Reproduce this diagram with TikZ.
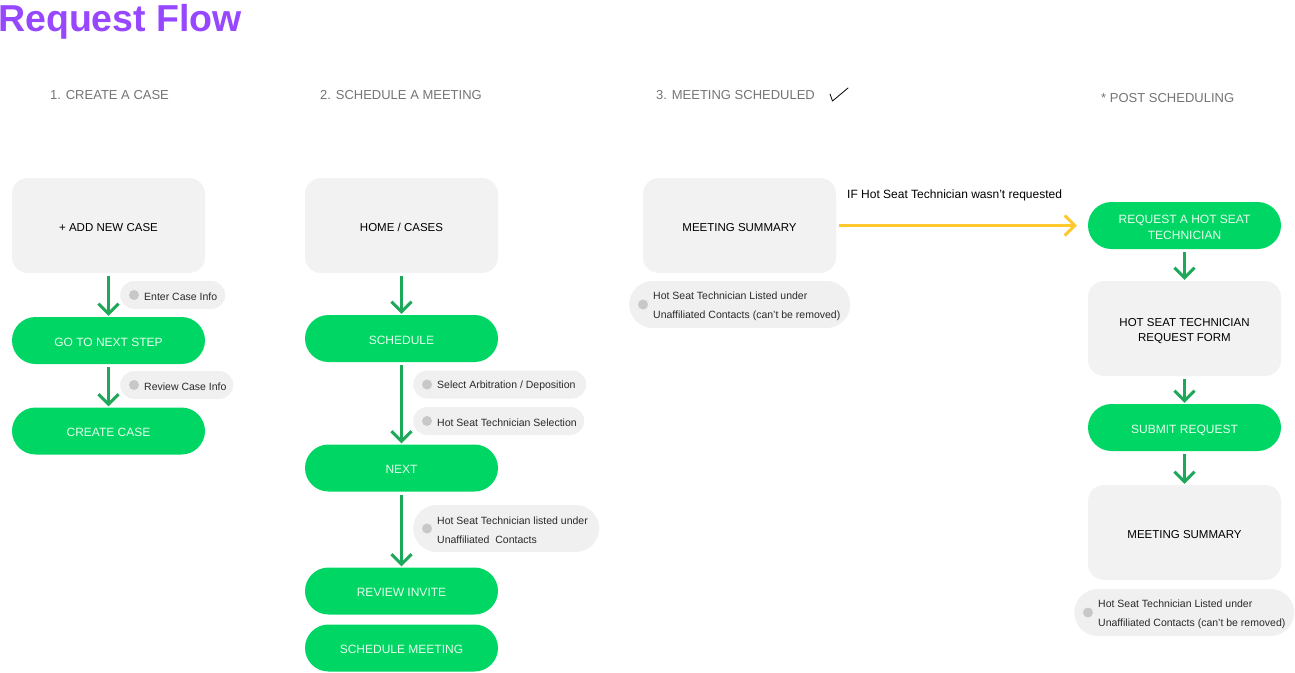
\documentclass[tikz,border=0pt]{standalone}
\usepackage{fontspec}
\setmainfont{Liberation Sans}
\usetikzlibrary{arrows.meta}
\definecolor{gfill}{HTML}{00D663}
\definecolor{arrowg}{HTML}{1EA85A}
\definecolor{pilltext}{HTML}{E6FFEE}
\definecolor{boxgray}{HTML}{F2F2F2}
\definecolor{notegray}{HTML}{F0F0F0}
\definecolor{dotgray}{HTML}{C8C8C8}
\definecolor{notetextc}{HTML}{2A2A2A}
\definecolor{headgray}{HTML}{747474}
\definecolor{titlepurple}{HTML}{9747FF}
\definecolor{ylw}{HTML}{FFC82C}
\tikzset{
  graybox/.style={fill=boxgray, rounded corners=16pt, minimum width=193pt, minimum height=95pt,
    font=\fontsize{11.5}{15}\selectfont, text=black, align=center, inner sep=0pt},
  greenpill/.style={fill=gfill, rounded corners=23.5pt, minimum width=193pt, minimum height=47pt,
    font=\fontsize{12}{16}\selectfont, text=pilltext, align=center, inner sep=0pt},
  oneline/.style={text height=11.5pt, text depth=0pt},
  twoline/.style={text height=27.5pt, text depth=0pt},
  twolinebox/.style={text height=26.1pt, text depth=0pt},
  note/.style={fill=notegray, rounded corners=14pt, inner sep=0pt, anchor=west, minimum height=28pt},
  tallnote/.style={note, rounded corners=23.5pt, minimum height=47pt},
  notedot/.style={circle, fill=dotgray, minimum size=10pt, inner sep=0pt},
  notetext/.style={anchor=west, inner sep=0pt, align=left, text=notetextc,
    font=\fontsize{10.5}{19}\selectfont},
  header/.style={anchor=base west, inner sep=0pt, text=headgray, font=\fontsize{13}{15}\selectfont},
  flow/.style={draw=arrowg, line width=3pt, shorten <=3pt, shorten >=1pt,
    -{Straight Barb[length=10pt,width=20pt,line width=3pt]}},
  yflow/.style={draw=ylw, line width=3pt, shorten <=3pt, shorten >=11pt,
    -{Straight Barb[length=10pt,width=20pt,line width=3pt]}}
}
\begin{document}
\begin{tikzpicture}[x=1pt,y=-1pt]
\useasboundingbox (0,0) rectangle (1295,672);

% title and headers
\node[anchor=base west, inner sep=0pt, text=titlepurple, font=\fontsize{37.5}{40}\selectfont\bfseries] (title) at (-2,31) {Request Flow};
\node[header] (h1) at (50,99) {1. CREATE A CASE};
\node[header] (h2) at (320,99) {2. SCHEDULE A MEETING};
\node[header] (h3) at (656,99) {3. MEETING SCHEDULED};
\node[header] (h4) at (1101,102) {* POST SCHEDULING};
\draw[line width=0.8pt, line cap=round, line join=round] (830,94) -- (832.5,101) -- (848,88);

% column 1
\node[graybox, oneline] (add) at (108.5,225.5) {+ ADD NEW CASE};
\node[greenpill, oneline] (gonext) at (108.5,340.5) {GO TO NEXT STEP};
\node[greenpill, oneline] (create) at (108.5,431) {CREATE CASE};
\draw[flow] (add) -- (gonext);
\draw[flow] (gonext) -- (create);
\node[note, minimum width=105pt] (n1) at (120,295) {};
\node[notedot] (n1d) at ([xshift=14pt]n1.west) {};
\node[notetext] (n1t) at ([xshift=24pt,yshift=-1.5pt]n1.west) {Enter Case Info};
\node[note, minimum width=113pt] (n2) at (120,385) {};
\node[notedot] (n2d) at ([xshift=14pt]n2.west) {};
\node[notetext] (n2t) at ([xshift=24pt,yshift=-1.5pt]n2.west) {Review Case Info};

% column 2
\node[graybox, oneline] (home) at (401.5,225.5) {HOME / CASES};
\node[greenpill, oneline] (sched) at (401.5,338.5) {SCHEDULE};
\node[greenpill, oneline] (next) at (401.5,468) {NEXT};
\node[greenpill, oneline] (review) at (401.5,591) {REVIEW INVITE};
\node[greenpill, oneline] (schedmeet) at (401.5,648) {SCHEDULE MEETING};
\draw[flow] (home) -- (sched);
\draw[flow] (sched) -- (next);
\draw[flow] (next) -- (review);
\node[note, minimum width=173pt] (n3) at (413,384.5) {};
\node[notedot] (n3d) at ([xshift=14pt]n3.west) {};
\node[notetext] (n3t) at ([xshift=24pt,yshift=-1.5pt]n3.west) {Select Arbitration / Deposition};
\node[note, minimum width=171pt] (n4) at (413,421) {};
\node[notedot] (n4d) at ([xshift=14pt]n4.west) {};
\node[notetext] (n4t) at ([xshift=24pt,yshift=-1.5pt]n4.west) {Hot Seat Technician Selection};
\node[tallnote, minimum width=186pt] (n5) at (413,528.5) {};
\node[notedot] (n5d) at ([xshift=14pt]n5.west) {};
\node[notetext] (n5t) at ([xshift=24pt,yshift=-1.5pt]n5.west) {Hot Seat Technician listed under\\Unaffiliated\ \ Contacts};

% column 3
\node[graybox, oneline] (msum) at (739.5,225.5) {MEETING SUMMARY};
\node[tallnote, minimum width=221pt] (n6) at (629,304.5) {};
\node[notedot] (n6d) at ([xshift=14pt]n6.west) {};
\node[notetext] (n6t) at ([xshift=24pt,yshift=-1.5pt]n6.west) {Hot Seat Technician Listed under\\Unaffiliated Contacts (can't be removed)};

% column 4
\node[greenpill, twoline] (req) at (1184.5,225.5) {REQUEST A HOT SEAT\\TECHNICIAN};
\node[graybox, twolinebox] (form) at (1184.5,328.5) {HOT SEAT TECHNICIAN\\REQUEST FORM};
\node[greenpill, oneline] (submit) at (1184.5,427.5) {SUBMIT REQUEST};
\node[graybox, oneline] (msum2) at (1184.5,532.5) {MEETING SUMMARY};
\draw[flow] (req) -- (form);
\draw[flow] (form) -- (submit);
\draw[flow] (submit) -- (msum2);
\node[tallnote, minimum width=220pt] (n7) at (1074,612.5) {};
\node[notedot] (n7d) at ([xshift=14pt]n7.west) {};
\node[notetext] (n7t) at ([xshift=24pt,yshift=-1.5pt]n7.west) {Hot Seat Technician Listed under\\Unaffiliated Contacts (can't be removed)};

% conditional connector
\draw[yflow] (msum) -- (req);
\node[anchor=base west, inner sep=0pt, font=\fontsize{12}{14}\selectfont] (cond) at (847,198.5) {IF Hot Seat Technician wasn't requested};
\end{tikzpicture}
\end{document}
